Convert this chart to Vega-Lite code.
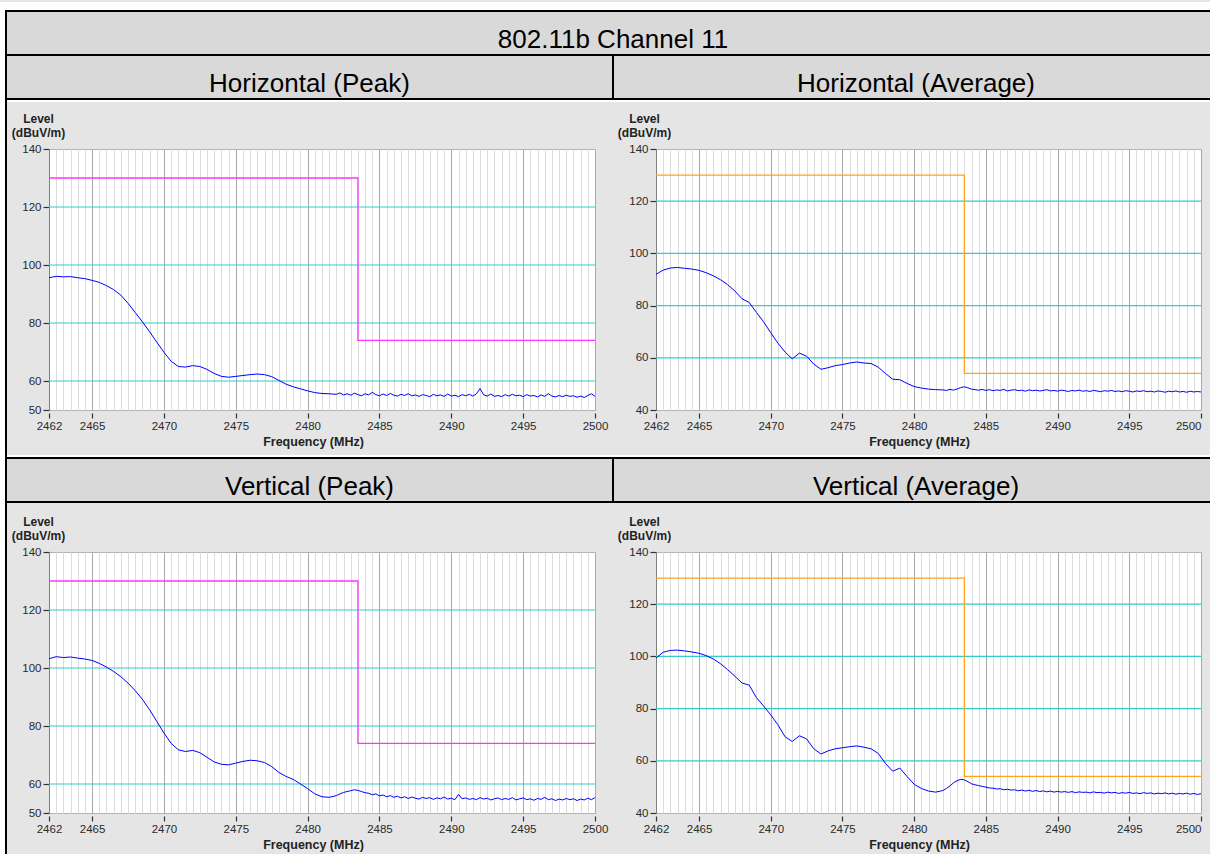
{
"$schema": "https://vega.github.io/schema/vega-lite/v6.json",
"background": "#e5e5e5",
"padding": 0,
"autosize": {"type": "pad"},
"config": {"font": "Liberation Sans", "view": {"stroke": null}, "concat": {"spacing": 0}, "axis": {"labelFont": "Liberation Sans", "titleFont": "Liberation Sans", "labelFlush": false, "labelOverlap": false}},
"data": {"values": [{}]},
"datasets": {
"hl": [{"v":60},{"v":80},{"v":100},{"v":120}],
"limit": [
{"p":"P","i":1,"f":2462,"v":130},{"p":"P","i":2,"f":2483.5,"v":130},{"p":"P","i":3,"f":2483.5,"v":74},{"p":"P","i":4,"f":2500,"v":74},
{"p":"A","i":1,"f":2462,"v":130},{"p":"A","i":2,"f":2483.5,"v":130},{"p":"A","i":3,"f":2483.5,"v":54},{"p":"A","i":4,"f":2500,"v":54}
],
"trace": [
{"p":"HP","f":2462,"v":95.6},{"p":"HP","f":2462.5,"v":96.1},{"p":"HP","f":2463,"v":95.9},{"p":"HP","f":2463.5,"v":96.0},{"p":"HP","f":2464,"v":95.6},{"p":"HP","f":2464.5,"v":95.3},{"p":"HP","f":2465,"v":94.7},{"p":"HP","f":2465.5,"v":94.0},{"p":"HP","f":2466,"v":92.9},{"p":"HP","f":2466.5,"v":91.5},{"p":"HP","f":2467,"v":89.6},{"p":"HP","f":2467.5,"v":86.8},{"p":"HP","f":2468,"v":83.6},{"p":"HP","f":2468.5,"v":80.4},{"p":"HP","f":2469,"v":77.0},{"p":"HP","f":2469.5,"v":73.4},{"p":"HP","f":2470,"v":69.9},{"p":"HP","f":2470.5,"v":66.8},{"p":"HP","f":2471,"v":65.0},{"p":"HP","f":2471.5,"v":64.8},{"p":"HP","f":2472,"v":65.3},{"p":"HP","f":2472.5,"v":65.0},{"p":"HP","f":2473,"v":64.0},{"p":"HP","f":2473.5,"v":62.6},{"p":"HP","f":2474,"v":61.6},{"p":"HP","f":2474.5,"v":61.3},{"p":"HP","f":2475,"v":61.6},{"p":"HP","f":2475.5,"v":61.9},{"p":"HP","f":2476,"v":62.2},{"p":"HP","f":2476.5,"v":62.4},{"p":"HP","f":2477,"v":62.2},{"p":"HP","f":2477.5,"v":61.5},{"p":"HP","f":2478,"v":60.2},{"p":"HP","f":2478.5,"v":58.9},{"p":"HP","f":2479,"v":58.0},{"p":"HP","f":2479.5,"v":57.3},{"p":"HP","f":2480,"v":56.6},{"p":"HP","f":2480.5,"v":56.0},{"p":"HP","f":2481,"v":55.7},{"p":"HP","f":2481.5,"v":55.6},
{"p":"HP","f":2482,"v":55.4},{"p":"HP","f":2482.25,"v":55.9},{"p":"HP","f":2482.5,"v":55.2},{"p":"HP","f":2482.75,"v":55.6},{"p":"HP","f":2483,"v":55.1},{"p":"HP","f":2483.25,"v":55.8},{"p":"HP","f":2483.5,"v":55.3},{"p":"HP","f":2483.75,"v":54.9},{"p":"HP","f":2484,"v":55.6},{"p":"HP","f":2484.25,"v":55.2},{"p":"HP","f":2484.5,"v":56.1},{"p":"HP","f":2484.75,"v":55.3},{"p":"HP","f":2485,"v":54.9},{"p":"HP","f":2485.25,"v":55.5},{"p":"HP","f":2485.5,"v":55.0},{"p":"HP","f":2485.75,"v":55.7},{"p":"HP","f":2486,"v":55.1},{"p":"HP","f":2486.25,"v":54.8},{"p":"HP","f":2486.5,"v":55.4},{"p":"HP","f":2486.75,"v":55.0},{"p":"HP","f":2487,"v":55.6},{"p":"HP","f":2487.25,"v":54.9},{"p":"HP","f":2487.5,"v":55.2},{"p":"HP","f":2487.75,"v":54.7},{"p":"HP","f":2488,"v":55.3},{"p":"HP","f":2488.25,"v":55.0},{"p":"HP","f":2488.5,"v":54.6},{"p":"HP","f":2488.75,"v":55.4},{"p":"HP","f":2489,"v":54.9},{"p":"HP","f":2489.25,"v":55.2},{"p":"HP","f":2489.5,"v":54.7},{"p":"HP","f":2489.75,"v":55.5},{"p":"HP","f":2490,"v":54.8},{"p":"HP","f":2490.25,"v":55.1},{"p":"HP","f":2490.5,"v":54.6},{"p":"HP","f":2490.75,"v":55.3},{"p":"HP","f":2491,"v":54.9},{"p":"HP","f":2491.25,"v":55.4},{"p":"HP","f":2491.5,"v":54.8},{"p":"HP","f":2491.75,"v":55.6},{"p":"HP","f":2492,"v":57.4},{"p":"HP","f":2492.25,"v":55.2},{"p":"HP","f":2492.5,"v":54.8},{"p":"HP","f":2492.75,"v":55.5},{"p":"HP","f":2493,"v":54.7},{"p":"HP","f":2493.25,"v":55.0},{"p":"HP","f":2493.5,"v":54.6},{"p":"HP","f":2493.75,"v":55.3},{"p":"HP","f":2494,"v":54.8},{"p":"HP","f":2494.25,"v":55.4},{"p":"HP","f":2494.5,"v":54.9},{"p":"HP","f":2494.75,"v":55.1},{"p":"HP","f":2495,"v":54.6},{"p":"HP","f":2495.25,"v":55.3},{"p":"HP","f":2495.5,"v":54.8},{"p":"HP","f":2495.75,"v":55.0},{"p":"HP","f":2496,"v":54.5},{"p":"HP","f":2496.25,"v":55.2},{"p":"HP","f":2496.5,"v":54.7},{"p":"HP","f":2496.75,"v":55.6},{"p":"HP","f":2497,"v":54.8},{"p":"HP","f":2497.25,"v":54.5},{"p":"HP","f":2497.5,"v":55.0},{"p":"HP","f":2497.75,"v":54.6},{"p":"HP","f":2498,"v":55.1},{"p":"HP","f":2498.25,"v":54.7},{"p":"HP","f":2498.5,"v":54.9},{"p":"HP","f":2498.75,"v":54.4},{"p":"HP","f":2499,"v":54.8},{"p":"HP","f":2499.25,"v":54.3},{"p":"HP","f":2499.5,"v":55.0},{"p":"HP","f":2499.75,"v":55.6},{"p":"HP","f":2500,"v":54.7},
{"p":"HA","f":2462,"v":92.0},{"p":"HA","f":2462.5,"v":93.6},{"p":"HA","f":2463,"v":94.4},{"p":"HA","f":2463.5,"v":94.6},{"p":"HA","f":2464,"v":94.3},{"p":"HA","f":2464.5,"v":94.0},{"p":"HA","f":2465,"v":93.5},{"p":"HA","f":2465.5,"v":92.6},{"p":"HA","f":2466,"v":91.4},{"p":"HA","f":2466.5,"v":89.9},{"p":"HA","f":2467,"v":88.0},{"p":"HA","f":2467.5,"v":85.6},{"p":"HA","f":2468,"v":82.6},{"p":"HA","f":2468.5,"v":81.2},{"p":"HA","f":2469,"v":77.4},{"p":"HA","f":2469.5,"v":73.8},{"p":"HA","f":2470,"v":69.6},{"p":"HA","f":2470.5,"v":65.6},{"p":"HA","f":2471,"v":62.2},{"p":"HA","f":2471.5,"v":59.6},{"p":"HA","f":2472,"v":61.8},{"p":"HA","f":2472.5,"v":60.6},{"p":"HA","f":2473,"v":57.6},{"p":"HA","f":2473.5,"v":55.6},{"p":"HA","f":2474,"v":56.2},{"p":"HA","f":2474.5,"v":57.0},{"p":"HA","f":2475,"v":57.4},{"p":"HA","f":2475.5,"v":58.0},{"p":"HA","f":2476,"v":58.4},{"p":"HA","f":2476.5,"v":58.0},{"p":"HA","f":2477,"v":57.8},{"p":"HA","f":2477.5,"v":56.4},{"p":"HA","f":2478,"v":54.0},{"p":"HA","f":2478.5,"v":51.8},{"p":"HA","f":2479,"v":51.6},{"p":"HA","f":2479.5,"v":50.2},{"p":"HA","f":2480,"v":49.0},{"p":"HA","f":2480.5,"v":48.4},{"p":"HA","f":2481,"v":48.0},{"p":"HA","f":2481.5,"v":47.8},
{"p":"HA","f":2482,"v":47.7},{"p":"HA","f":2482.25,"v":47.5},{"p":"HA","f":2482.5,"v":47.9},{"p":"HA","f":2482.75,"v":47.6},{"p":"HA","f":2483,"v":48.1},{"p":"HA","f":2483.25,"v":48.6},{"p":"HA","f":2483.5,"v":48.9},{"p":"HA","f":2483.75,"v":48.5},{"p":"HA","f":2484,"v":48.0},{"p":"HA","f":2484.25,"v":47.8},{"p":"HA","f":2484.5,"v":47.6},{"p":"HA","f":2484.75,"v":47.9},{"p":"HA","f":2485,"v":47.5},{"p":"HA","f":2485.25,"v":47.8},{"p":"HA","f":2485.5,"v":47.4},{"p":"HA","f":2485.75,"v":47.7},{"p":"HA","f":2486,"v":47.5},{"p":"HA","f":2486.25,"v":47.9},{"p":"HA","f":2486.5,"v":47.3},{"p":"HA","f":2486.75,"v":47.6},{"p":"HA","f":2487,"v":47.8},{"p":"HA","f":2487.25,"v":47.4},{"p":"HA","f":2487.5,"v":47.6},{"p":"HA","f":2487.75,"v":47.2},{"p":"HA","f":2488,"v":47.7},{"p":"HA","f":2488.25,"v":47.4},{"p":"HA","f":2488.5,"v":47.6},{"p":"HA","f":2488.75,"v":47.3},{"p":"HA","f":2489,"v":47.5},{"p":"HA","f":2489.25,"v":47.8},{"p":"HA","f":2489.5,"v":47.3},{"p":"HA","f":2489.75,"v":47.5},{"p":"HA","f":2490,"v":47.2},{"p":"HA","f":2490.25,"v":47.6},{"p":"HA","f":2490.5,"v":47.4},{"p":"HA","f":2490.75,"v":47.1},{"p":"HA","f":2491,"v":47.5},{"p":"HA","f":2491.25,"v":47.3},{"p":"HA","f":2491.5,"v":47.6},{"p":"HA","f":2491.75,"v":47.2},{"p":"HA","f":2492,"v":47.4},{"p":"HA","f":2492.25,"v":47.1},{"p":"HA","f":2492.5,"v":47.5},{"p":"HA","f":2492.75,"v":47.3},{"p":"HA","f":2493,"v":47.0},{"p":"HA","f":2493.25,"v":47.4},{"p":"HA","f":2493.5,"v":47.2},{"p":"HA","f":2493.75,"v":47.5},{"p":"HA","f":2494,"v":47.1},{"p":"HA","f":2494.25,"v":47.3},{"p":"HA","f":2494.5,"v":47.0},{"p":"HA","f":2494.75,"v":47.4},{"p":"HA","f":2495,"v":47.2},{"p":"HA","f":2495.25,"v":46.9},{"p":"HA","f":2495.5,"v":47.3},{"p":"HA","f":2495.75,"v":47.1},{"p":"HA","f":2496,"v":47.4},{"p":"HA","f":2496.25,"v":47.0},{"p":"HA","f":2496.5,"v":47.2},{"p":"HA","f":2496.75,"v":46.9},{"p":"HA","f":2497,"v":47.3},{"p":"HA","f":2497.25,"v":47.1},{"p":"HA","f":2497.5,"v":46.8},{"p":"HA","f":2497.75,"v":47.2},{"p":"HA","f":2498,"v":47.0},{"p":"HA","f":2498.25,"v":47.3},{"p":"HA","f":2498.5,"v":46.9},{"p":"HA","f":2498.75,"v":47.1},{"p":"HA","f":2499,"v":46.8},{"p":"HA","f":2499.25,"v":47.2},{"p":"HA","f":2499.5,"v":46.9},{"p":"HA","f":2499.75,"v":47.1},{"p":"HA","f":2500,"v":46.9},
{"p":"VP","f":2462,"v":103.2},{"p":"VP","f":2462.5,"v":103.9},{"p":"VP","f":2463,"v":103.6},{"p":"VP","f":2463.5,"v":103.8},{"p":"VP","f":2464,"v":103.4},{"p":"VP","f":2464.5,"v":103.1},{"p":"VP","f":2465,"v":102.6},{"p":"VP","f":2465.5,"v":101.6},{"p":"VP","f":2466,"v":100.3},{"p":"VP","f":2466.5,"v":98.8},{"p":"VP","f":2467,"v":97.0},{"p":"VP","f":2467.5,"v":94.8},{"p":"VP","f":2468,"v":92.2},{"p":"VP","f":2468.5,"v":89.2},{"p":"VP","f":2469,"v":85.6},{"p":"VP","f":2469.5,"v":81.6},{"p":"VP","f":2470,"v":77.6},{"p":"VP","f":2470.5,"v":74.0},{"p":"VP","f":2471,"v":71.8},{"p":"VP","f":2471.5,"v":71.2},{"p":"VP","f":2472,"v":71.6},{"p":"VP","f":2472.5,"v":70.8},{"p":"VP","f":2473,"v":69.2},{"p":"VP","f":2473.5,"v":67.6},{"p":"VP","f":2474,"v":66.8},{"p":"VP","f":2474.5,"v":66.6},{"p":"VP","f":2475,"v":67.2},{"p":"VP","f":2475.5,"v":67.8},{"p":"VP","f":2476,"v":68.2},{"p":"VP","f":2476.5,"v":68.0},{"p":"VP","f":2477,"v":67.4},{"p":"VP","f":2477.5,"v":66.0},{"p":"VP","f":2478,"v":64.0},{"p":"VP","f":2478.5,"v":62.6},{"p":"VP","f":2479,"v":61.6},{"p":"VP","f":2479.5,"v":60.0},{"p":"VP","f":2480,"v":58.4},{"p":"VP","f":2480.5,"v":56.6},{"p":"VP","f":2481,"v":55.6},{"p":"VP","f":2481.5,"v":55.4},
{"p":"VP","f":2482,"v":56.0},{"p":"VP","f":2482.25,"v":56.6},{"p":"VP","f":2482.5,"v":57.1},{"p":"VP","f":2482.75,"v":57.4},{"p":"VP","f":2483,"v":57.7},{"p":"VP","f":2483.25,"v":58.0},{"p":"VP","f":2483.5,"v":57.8},{"p":"VP","f":2483.75,"v":57.4},{"p":"VP","f":2484,"v":57.0},{"p":"VP","f":2484.25,"v":56.8},{"p":"VP","f":2484.5,"v":56.3},{"p":"VP","f":2484.75,"v":56.6},{"p":"VP","f":2485,"v":55.9},{"p":"VP","f":2485.25,"v":56.2},{"p":"VP","f":2485.5,"v":55.6},{"p":"VP","f":2485.75,"v":56.0},{"p":"VP","f":2486,"v":55.4},{"p":"VP","f":2486.25,"v":55.8},{"p":"VP","f":2486.5,"v":55.2},{"p":"VP","f":2486.75,"v":55.6},{"p":"VP","f":2487,"v":55.0},{"p":"VP","f":2487.25,"v":55.5},{"p":"VP","f":2487.5,"v":55.1},{"p":"VP","f":2487.75,"v":54.8},{"p":"VP","f":2488,"v":55.4},{"p":"VP","f":2488.25,"v":55.0},{"p":"VP","f":2488.5,"v":55.3},{"p":"VP","f":2488.75,"v":54.7},{"p":"VP","f":2489,"v":55.2},{"p":"VP","f":2489.25,"v":54.9},{"p":"VP","f":2489.5,"v":55.5},{"p":"VP","f":2489.75,"v":54.8},{"p":"VP","f":2490,"v":55.1},{"p":"VP","f":2490.25,"v":54.6},{"p":"VP","f":2490.5,"v":56.4},{"p":"VP","f":2490.75,"v":54.9},{"p":"VP","f":2491,"v":55.2},{"p":"VP","f":2491.25,"v":54.7},{"p":"VP","f":2491.5,"v":55.0},{"p":"VP","f":2491.75,"v":54.6},{"p":"VP","f":2492,"v":55.3},{"p":"VP","f":2492.25,"v":54.8},{"p":"VP","f":2492.5,"v":55.1},{"p":"VP","f":2492.75,"v":54.5},{"p":"VP","f":2493,"v":54.9},{"p":"VP","f":2493.25,"v":55.2},{"p":"VP","f":2493.5,"v":54.6},{"p":"VP","f":2493.75,"v":55.0},{"p":"VP","f":2494,"v":54.7},{"p":"VP","f":2494.25,"v":55.3},{"p":"VP","f":2494.5,"v":54.5},{"p":"VP","f":2494.75,"v":54.9},{"p":"VP","f":2495,"v":55.2},{"p":"VP","f":2495.25,"v":54.6},{"p":"VP","f":2495.5,"v":54.9},{"p":"VP","f":2495.75,"v":54.4},{"p":"VP","f":2496,"v":55.0},{"p":"VP","f":2496.25,"v":54.7},{"p":"VP","f":2496.5,"v":55.4},{"p":"VP","f":2496.75,"v":54.6},{"p":"VP","f":2497,"v":54.9},{"p":"VP","f":2497.25,"v":54.3},{"p":"VP","f":2497.5,"v":54.8},{"p":"VP","f":2497.75,"v":54.5},{"p":"VP","f":2498,"v":55.0},{"p":"VP","f":2498.25,"v":54.6},{"p":"VP","f":2498.5,"v":54.9},{"p":"VP","f":2498.75,"v":54.3},{"p":"VP","f":2499,"v":54.8},{"p":"VP","f":2499.25,"v":54.5},{"p":"VP","f":2499.5,"v":55.1},{"p":"VP","f":2499.75,"v":54.6},{"p":"VP","f":2500,"v":55.3},
{"p":"VA","f":2462,"v":99.4},{"p":"VA","f":2462.5,"v":101.6},{"p":"VA","f":2463,"v":102.3},{"p":"VA","f":2463.5,"v":102.4},{"p":"VA","f":2464,"v":102.1},{"p":"VA","f":2464.5,"v":101.7},{"p":"VA","f":2465,"v":101.2},{"p":"VA","f":2465.5,"v":100.3},{"p":"VA","f":2466,"v":99.0},{"p":"VA","f":2466.5,"v":97.2},{"p":"VA","f":2467,"v":94.9},{"p":"VA","f":2467.5,"v":92.4},{"p":"VA","f":2468,"v":89.8},{"p":"VA","f":2468.5,"v":89.0},{"p":"VA","f":2469,"v":84.2},{"p":"VA","f":2469.5,"v":81.0},{"p":"VA","f":2470,"v":77.6},{"p":"VA","f":2470.5,"v":73.8},{"p":"VA","f":2471,"v":69.2},{"p":"VA","f":2471.5,"v":67.4},{"p":"VA","f":2472,"v":69.6},{"p":"VA","f":2472.5,"v":68.4},{"p":"VA","f":2473,"v":64.6},{"p":"VA","f":2473.5,"v":62.6},{"p":"VA","f":2474,"v":63.8},{"p":"VA","f":2474.5,"v":64.6},{"p":"VA","f":2475,"v":65.0},{"p":"VA","f":2475.5,"v":65.4},{"p":"VA","f":2476,"v":65.7},{"p":"VA","f":2476.5,"v":65.2},{"p":"VA","f":2477,"v":64.6},{"p":"VA","f":2477.5,"v":62.8},{"p":"VA","f":2478,"v":59.0},{"p":"VA","f":2478.5,"v":56.0},{"p":"VA","f":2479,"v":57.2},{"p":"VA","f":2479.5,"v":54.0},{"p":"VA","f":2480,"v":51.0},{"p":"VA","f":2480.5,"v":49.4},{"p":"VA","f":2481,"v":48.4},{"p":"VA","f":2481.5,"v":48.0},
{"p":"VA","f":2482,"v":48.6},{"p":"VA","f":2482.25,"v":49.4},{"p":"VA","f":2482.5,"v":50.4},{"p":"VA","f":2482.75,"v":51.6},{"p":"VA","f":2483,"v":52.4},{"p":"VA","f":2483.25,"v":52.9},{"p":"VA","f":2483.5,"v":52.7},{"p":"VA","f":2483.75,"v":52.0},{"p":"VA","f":2484,"v":51.2},{"p":"VA","f":2484.25,"v":50.8},{"p":"VA","f":2484.5,"v":50.5},{"p":"VA","f":2484.75,"v":50.2},{"p":"VA","f":2485,"v":49.9},{"p":"VA","f":2485.25,"v":49.6},{"p":"VA","f":2485.5,"v":49.5},{"p":"VA","f":2485.75,"v":49.2},{"p":"VA","f":2486,"v":49.3},{"p":"VA","f":2486.25,"v":48.9},{"p":"VA","f":2486.5,"v":49.1},{"p":"VA","f":2486.75,"v":48.8},{"p":"VA","f":2487,"v":48.9},{"p":"VA","f":2487.25,"v":48.5},{"p":"VA","f":2487.5,"v":48.8},{"p":"VA","f":2487.75,"v":48.4},{"p":"VA","f":2488,"v":48.7},{"p":"VA","f":2488.25,"v":48.3},{"p":"VA","f":2488.5,"v":48.6},{"p":"VA","f":2488.75,"v":48.2},{"p":"VA","f":2489,"v":48.5},{"p":"VA","f":2489.25,"v":48.1},{"p":"VA","f":2489.5,"v":48.4},{"p":"VA","f":2489.75,"v":48.0},{"p":"VA","f":2490,"v":48.3},{"p":"VA","f":2490.25,"v":48.0},{"p":"VA","f":2490.5,"v":48.2},{"p":"VA","f":2490.75,"v":47.9},{"p":"VA","f":2491,"v":48.2},{"p":"VA","f":2491.25,"v":47.8},{"p":"VA","f":2491.5,"v":48.1},{"p":"VA","f":2491.75,"v":47.9},{"p":"VA","f":2492,"v":48.0},{"p":"VA","f":2492.25,"v":47.7},{"p":"VA","f":2492.5,"v":48.1},{"p":"VA","f":2492.75,"v":47.8},{"p":"VA","f":2493,"v":47.9},{"p":"VA","f":2493.25,"v":47.6},{"p":"VA","f":2493.5,"v":48.0},{"p":"VA","f":2493.75,"v":47.7},{"p":"VA","f":2494,"v":47.9},{"p":"VA","f":2494.25,"v":47.5},{"p":"VA","f":2494.5,"v":47.8},{"p":"VA","f":2494.75,"v":47.6},{"p":"VA","f":2495,"v":47.9},{"p":"VA","f":2495.25,"v":47.5},{"p":"VA","f":2495.5,"v":47.7},{"p":"VA","f":2495.75,"v":47.4},{"p":"VA","f":2496,"v":47.8},{"p":"VA","f":2496.25,"v":47.5},{"p":"VA","f":2496.5,"v":47.7},{"p":"VA","f":2496.75,"v":47.3},{"p":"VA","f":2497,"v":47.6},{"p":"VA","f":2497.25,"v":47.4},{"p":"VA","f":2497.5,"v":47.7},{"p":"VA","f":2497.75,"v":47.3},{"p":"VA","f":2498,"v":47.6},{"p":"VA","f":2498.25,"v":47.2},{"p":"VA","f":2498.5,"v":47.5},{"p":"VA","f":2498.75,"v":47.3},{"p":"VA","f":2499,"v":47.6},{"p":"VA","f":2499.25,"v":47.2},{"p":"VA","f":2499.5,"v":47.5},{"p":"VA","f":2499.75,"v":47.1},{"p":"VA","f":2500,"v":47.4}
]
},
"columns": 9,
"spacing": 0,
"bounds": "flush",
"align": "each",
"concat": [
{"width":5,"height":8,"view":{"fill":"white"},"mark":{"type":"text","text":""}},
{"width":2,"height":8,"view":{"fill":"white"},"mark":{"type":"text","text":""}},
{"width":42,"height":8,"view":{"fill":"white"},"mark":{"type":"text","text":""}},
{"width":546,"height":8,"view":{"fill":"white"},"mark":{"type":"text","text":""}},
{"width":17,"height":8,"view":{"fill":"white"},"mark":{"type":"text","text":""}},
{"width":2,"height":8,"view":{"fill":"white"},"mark":{"type":"text","text":""}},
{"width":42,"height":8,"view":{"fill":"white"},"mark":{"type":"text","text":""}},
{"width":545,"height":8,"view":{"fill":"white"},"mark":{"type":"text","text":""}},
{"width":9,"height":8,"view":{"fill":"white"},"mark":{"type":"text","text":""}},

{"width":5,"height":2,"view":{"fill":"white"},"mark":{"type":"text","text":""}},
{"width":2,"height":2,"view":{"fill":"black"},"mark":{"type":"text","text":""}},
{"width":42,"height":2,"view":{"fill":"black"},"mark":{"type":"text","text":""}},
{"width":546,"height":2,"view":{"fill":"black"},"mark":{"type":"text","text":""}},
{"width":17,"height":2,"view":{"fill":"black"},"mark":{"type":"text","text":""}},
{"width":2,"height":2,"view":{"fill":"black"},"mark":{"type":"text","text":""}},
{"width":42,"height":2,"view":{"fill":"black"},"mark":{"type":"text","text":""}},
{"width":545,"height":2,"view":{"fill":"black"},"mark":{"type":"text","text":""}},
{"width":9,"height":2,"view":{"fill":"black"},"mark":{"type":"text","text":""}},

{"width":5,"height":42,"view":{"fill":"white"},"mark":{"type":"text","text":""}},
{"width":2,"height":42,"view":{"fill":"black"},"mark":{"type":"text","text":""}},
{"width":42,"height":42,"view":{"fill":"#d9d9d9"},"mark":{"type":"text","text":""}},
{"width":546,"height":42,"view":{"fill":"#d9d9d9"},"mark":{"type":"text","text":""}},
{"width":17,"height":42,"view":{"fill":"#d9d9d9"},"mark":{"type":"text","text":""}},
{"width":2,"height":42,"view":{"fill":"#d9d9d9"},"mark":{"type":"text","text":""}},
{"width":42,"height":42,"view":{"fill":"#d9d9d9"},"mark":{"type":"text","text":""}},
{"width":545,"height":42,"view":{"fill":"#d9d9d9"},"mark":{"type":"text","text":""}},
{"width":9,"height":42,"view":{"fill":"#d9d9d9"},"data":{"values":[{"t":"802.11b Channel 11"}]},"mark":{"type":"text","fontSize":26,"font":"Liberation Sans","color":"black","baseline":"middle","dx":-592.5,"dy":7},"encoding":{"text":{"field":"t","type":"nominal"}}},

{"width":5,"height":2,"view":{"fill":"white"},"mark":{"type":"text","text":""}},
{"width":2,"height":2,"view":{"fill":"black"},"mark":{"type":"text","text":""}},
{"width":42,"height":2,"view":{"fill":"black"},"mark":{"type":"text","text":""}},
{"width":546,"height":2,"view":{"fill":"black"},"mark":{"type":"text","text":""}},
{"width":17,"height":2,"view":{"fill":"black"},"mark":{"type":"text","text":""}},
{"width":2,"height":2,"view":{"fill":"black"},"mark":{"type":"text","text":""}},
{"width":42,"height":2,"view":{"fill":"black"},"mark":{"type":"text","text":""}},
{"width":545,"height":2,"view":{"fill":"black"},"mark":{"type":"text","text":""}},
{"width":9,"height":2,"view":{"fill":"black"},"mark":{"type":"text","text":""}},

{"width":5,"height":42,"view":{"fill":"white"},"mark":{"type":"text","text":""}},
{"width":2,"height":42,"view":{"fill":"black"},"mark":{"type":"text","text":""}},
{"width":42,"height":42,"view":{"fill":"#d9d9d9"},"mark":{"type":"text","text":""}},
{"width":546,"height":42,"view":{"fill":"#d9d9d9"},"mark":{"type":"text","text":""}},
{"width":17,"height":42,"view":{"fill":"#d9d9d9"},"data":{"values":[{"t":"Horizontal (Peak)"}]},"mark":{"type":"text","fontSize":26,"font":"Liberation Sans","color":"black","baseline":"middle","dx":-294,"dy":7},"encoding":{"text":{"field":"t","type":"nominal"}}},
{"width":2,"height":42,"view":{"fill":"black"},"mark":{"type":"text","text":""}},
{"width":42,"height":42,"view":{"fill":"#d9d9d9"},"mark":{"type":"text","text":""}},
{"width":545,"height":42,"view":{"fill":"#d9d9d9"},"mark":{"type":"text","text":""}},
{"width":9,"height":42,"view":{"fill":"#d9d9d9"},"data":{"values":[{"t":"Horizontal (Average)"}]},"mark":{"type":"text","fontSize":26,"font":"Liberation Sans","color":"black","baseline":"middle","dx":-289.5,"dy":7},"encoding":{"text":{"field":"t","type":"nominal"}}},

{"width":5,"height":2,"view":{"fill":"white"},"mark":{"type":"text","text":""}},
{"width":2,"height":2,"view":{"fill":"black"},"mark":{"type":"text","text":""}},
{"width":42,"height":2,"view":{"fill":"black"},"mark":{"type":"text","text":""}},
{"width":546,"height":2,"view":{"fill":"black"},"mark":{"type":"text","text":""}},
{"width":17,"height":2,"view":{"fill":"black"},"mark":{"type":"text","text":""}},
{"width":2,"height":2,"view":{"fill":"black"},"mark":{"type":"text","text":""}},
{"width":42,"height":2,"view":{"fill":"black"},"mark":{"type":"text","text":""}},
{"width":545,"height":2,"view":{"fill":"black"},"mark":{"type":"text","text":""}},
{"width":9,"height":2,"view":{"fill":"black"},"mark":{"type":"text","text":""}},

{"width":5,"height":2,"view":{"fill":"white"},"mark":{"type":"text","text":""}},
{"width":2,"height":2,"view":{"fill":"black"},"mark":{"type":"text","text":""}},
{"width":42,"height":2,"view":{"fill":"white"},"mark":{"type":"text","text":""}},
{"width":546,"height":2,"view":{"fill":"white"},"mark":{"type":"text","text":""}},
{"width":17,"height":2,"view":{"fill":"white"},"mark":{"type":"text","text":""}},
{"width":2,"height":2,"view":{"fill":"white"},"mark":{"type":"text","text":""}},
{"width":42,"height":2,"view":{"fill":"white"},"mark":{"type":"text","text":""}},
{"width":545,"height":2,"view":{"fill":"white"},"mark":{"type":"text","text":""}},
{"width":9,"height":2,"view":{"fill":"white"},"mark":{"type":"text","text":""}},

{"width":5,"height":47,"view":{"fill":"white"},"mark":{"type":"text","text":""}},
{"width":2,"height":47,"view":{"fill":"black"},"mark":{"type":"text","text":""}},
{"width":42,"height":47,"mark":{"type":"text","text":""}},
{"width":546,"height":47,"mark":{"type":"text","text":""}},
{"width":17,"height":47,"mark":{"type":"text","text":""}},
{"width":2,"height":47,"mark":{"type":"text","text":""}},
{"width":42,"height":47,"mark":{"type":"text","text":""}},
{"width":545,"height":47,"mark":{"type":"text","text":""}},
{"width":9,"height":47,"mark":{"type":"text","text":""}},

{"width":5,"height":261,"view":{"fill":"white"},"mark":{"type":"text","text":""}},
{"width":2,"height":261,"view":{"fill":"black"},"mark":{"type":"text","text":""}},
{"width":42,"height":261,"mark":{"type":"text","text":""}},
{"width": 546, "height": 261, "view": {"fill": "white", "stroke": "#b4b4b4", "strokeWidth": 1},
 "resolve": {"axis": {"x": "independent", "y": "independent"}},
 "layer": [
  {"data": {"name": "hl"}, "mark": {"type": "rule", "color": "#33cccc", "strokeWidth": 1.2},
   "encoding": {"y": {"field": "v", "type": "quantitative", "scale": {"domain": [50, 140], "nice": false, "zero": false}, "axis": null}}},
  {"data": {"name": "limit"}, "transform": [{"filter": "datum.p == 'P'"}],
   "mark": {"type": "line", "color": "#ff33ff", "strokeWidth": 1.3},
   "encoding": {
    "x": {"field": "f", "type": "quantitative", "scale": {"domain": [2462, 2500], "nice": false, "zero": false},
      "axis": {"orient": "top", "values": [2462.5,2463,2463.5,2464,2464.5,2465.5,2466,2466.5,2467,2467.5,2468,2468.5,2469,2469.5,2470.5,2471,2471.5,2472,2472.5,2473,2473.5,2474,2474.5,2475.5,2476,2476.5,2477,2477.5,2478,2478.5,2479,2479.5,2480.5,2481,2481.5,2482,2482.5,2483,2483.5,2484,2484.5,2485.5,2486,2486.5,2487,2487.5,2488,2488.5,2489,2489.5,2490.5,2491,2491.5,2492,2492.5,2493,2493.5,2494,2494.5,2495.5,2496,2496.5,2497,2497.5,2498,2498.5,2499,2499.5], "grid": true, "gridColor": "#dcdcdc", "gridWidth": 1, "domain": false, "ticks": false, "labels": false, "title": null}},
    "y": {"field": "v", "type": "quantitative",
      "axis": {"orient": "left", "values": [50,60,80,100,120,140], "grid": false, "domain": true, "domainColor": "#808080", "tickSize": 6, "tickColor": "#333333", "tickWidth": 1.2, "labelFontSize": 11.5, "labelColor": "#2a2a2a", "labelPadding": 2, "title": ["Level", "(dBuV/m)"], "titleAngle": 0, "titleAlign": "center", "titleBaseline": "alphabetic", "titleX": -11, "titleY": -27, "titleFontSize": 12, "titleFontWeight": "bold", "titleColor": "#222222", "titleLineHeight": 14}},
    "order": {"field": "i", "type": "quantitative"}
   }},
  {"data": {"name": "trace"}, "transform": [{"filter": "datum.p == 'HP'"}],
   "mark": {"type": "line", "color": "#0000ff", "strokeWidth": 1},
   "encoding": {
    "x": {"field": "f", "type": "quantitative",
      "axis": {"orient": "bottom", "values": [2462,2465,2470,2475,2480,2485,2490,2495,2500], "format": "d", "grid": true, "gridColor": "#a9a9a9", "gridWidth": 1, "domain": false, "offset": 3, "tickSize": 5, "tickColor": "#333333", "tickWidth": 1.2, "labelFontSize": 11.5, "labelColor": "#2a2a2a", "labelPadding": 2, "title": "Frequency (MHz)", "titleFontSize": 12.5, "titleFontWeight": "bold", "titleColor": "#222222", "titleX": 264, "titleY": 32, "titleAlign": "center", "titleBaseline": "alphabetic"}},
    "y": {"field": "v", "type": "quantitative", "axis": null}
   }}
 ]},
{"width":17,"height":261,"mark":{"type":"text","text":""}},
{"width":2,"height":261,"mark":{"type":"text","text":""}},
{"width":42,"height":261,"mark":{"type":"text","text":""}},
{"width": 545, "height": 261, "view": {"fill": "white", "stroke": "#b4b4b4", "strokeWidth": 1},
 "resolve": {"axis": {"x": "independent", "y": "independent"}},
 "layer": [
  {"data": {"name": "hl"}, "mark": {"type": "rule", "color": "#33cccc", "strokeWidth": 1.2},
   "encoding": {"y": {"field": "v", "type": "quantitative", "scale": {"domain": [40, 140], "nice": false, "zero": false}, "axis": null}}},
  {"data": {"name": "limit"}, "transform": [{"filter": "datum.p == 'A'"}],
   "mark": {"type": "line", "color": "#ffa31a", "strokeWidth": 1.3},
   "encoding": {
    "x": {"field": "f", "type": "quantitative", "scale": {"domain": [2462, 2500], "nice": false, "zero": false},
      "axis": {"orient": "top", "values": [2462.5,2463,2463.5,2464,2464.5,2465.5,2466,2466.5,2467,2467.5,2468,2468.5,2469,2469.5,2470.5,2471,2471.5,2472,2472.5,2473,2473.5,2474,2474.5,2475.5,2476,2476.5,2477,2477.5,2478,2478.5,2479,2479.5,2480.5,2481,2481.5,2482,2482.5,2483,2483.5,2484,2484.5,2485.5,2486,2486.5,2487,2487.5,2488,2488.5,2489,2489.5,2490.5,2491,2491.5,2492,2492.5,2493,2493.5,2494,2494.5,2495.5,2496,2496.5,2497,2497.5,2498,2498.5,2499,2499.5], "grid": true, "gridColor": "#dcdcdc", "gridWidth": 1, "domain": false, "ticks": false, "labels": false, "title": null}},
    "y": {"field": "v", "type": "quantitative",
      "axis": {"orient": "left", "values": [40,60,80,100,120,140], "grid": false, "domain": true, "domainColor": "#808080", "tickSize": 6, "tickColor": "#333333", "tickWidth": 1.2, "labelFontSize": 11.5, "labelColor": "#2a2a2a", "labelPadding": 2, "title": ["Level", "(dBuV/m)"], "titleAngle": 0, "titleAlign": "center", "titleBaseline": "alphabetic", "titleX": -12, "titleY": -27, "titleFontSize": 12, "titleFontWeight": "bold", "titleColor": "#222222", "titleLineHeight": 14}},
    "order": {"field": "i", "type": "quantitative"}
   }},
  {"data": {"name": "trace"}, "transform": [{"filter": "datum.p == 'HA'"}],
   "mark": {"type": "line", "color": "#0000ff", "strokeWidth": 1},
   "encoding": {
    "x": {"field": "f", "type": "quantitative",
      "axis": {"orient": "bottom", "values": [2462,2465,2470,2475,2480,2485,2490,2495,2500], "format": "d", "grid": true, "gridColor": "#a9a9a9", "gridWidth": 1, "domain": false, "offset": 3, "tickSize": 5, "tickColor": "#333333", "tickWidth": 1.2, "labelFontSize": 11.5, "labelColor": "#2a2a2a", "labelPadding": 2, "labelAlign": {"condition": {"test": "datum.value == 2500", "value": "right"}, "value": "center"}, "title": "Frequency (MHz)", "titleFontSize": 12.5, "titleFontWeight": "bold", "titleColor": "#222222", "titleX": 263, "titleY": 32, "titleAlign": "center", "titleBaseline": "alphabetic"}},
    "y": {"field": "v", "type": "quantitative", "axis": null}
   }}
 ]},
{"width":9,"height":261,"mark":{"type":"text","text":""}},

{"width":5,"height":45,"view":{"fill":"white"},"mark":{"type":"text","text":""}},
{"width":2,"height":45,"view":{"fill":"black"},"mark":{"type":"text","text":""}},
{"width":42,"height":45,"mark":{"type":"text","text":""}},
{"width":546,"height":45,"mark":{"type":"text","text":""}},
{"width":17,"height":45,"mark":{"type":"text","text":""}},
{"width":2,"height":45,"mark":{"type":"text","text":""}},
{"width":42,"height":45,"mark":{"type":"text","text":""}},
{"width":545,"height":45,"mark":{"type":"text","text":""}},
{"width":9,"height":45,"mark":{"type":"text","text":""}},

{"width":5,"height":2,"view":{"fill":"white"},"mark":{"type":"text","text":""}},
{"width":2,"height":2,"view":{"fill":"black"},"mark":{"type":"text","text":""}},
{"width":42,"height":2,"view":{"fill":"white"},"mark":{"type":"text","text":""}},
{"width":546,"height":2,"view":{"fill":"white"},"mark":{"type":"text","text":""}},
{"width":17,"height":2,"view":{"fill":"white"},"mark":{"type":"text","text":""}},
{"width":2,"height":2,"view":{"fill":"white"},"mark":{"type":"text","text":""}},
{"width":42,"height":2,"view":{"fill":"white"},"mark":{"type":"text","text":""}},
{"width":545,"height":2,"view":{"fill":"white"},"mark":{"type":"text","text":""}},
{"width":9,"height":2,"view":{"fill":"white"},"mark":{"type":"text","text":""}},

{"width":5,"height":2,"view":{"fill":"white"},"mark":{"type":"text","text":""}},
{"width":2,"height":2,"view":{"fill":"black"},"mark":{"type":"text","text":""}},
{"width":42,"height":2,"view":{"fill":"black"},"mark":{"type":"text","text":""}},
{"width":546,"height":2,"view":{"fill":"black"},"mark":{"type":"text","text":""}},
{"width":17,"height":2,"view":{"fill":"black"},"mark":{"type":"text","text":""}},
{"width":2,"height":2,"view":{"fill":"black"},"mark":{"type":"text","text":""}},
{"width":42,"height":2,"view":{"fill":"black"},"mark":{"type":"text","text":""}},
{"width":545,"height":2,"view":{"fill":"black"},"mark":{"type":"text","text":""}},
{"width":9,"height":2,"view":{"fill":"black"},"mark":{"type":"text","text":""}},

{"width":5,"height":42,"view":{"fill":"white"},"mark":{"type":"text","text":""}},
{"width":2,"height":42,"view":{"fill":"black"},"mark":{"type":"text","text":""}},
{"width":42,"height":42,"view":{"fill":"#d9d9d9"},"mark":{"type":"text","text":""}},
{"width":546,"height":42,"view":{"fill":"#d9d9d9"},"mark":{"type":"text","text":""}},
{"width":17,"height":42,"view":{"fill":"#d9d9d9"},"data":{"values":[{"t":"Vertical (Peak)"}]},"mark":{"type":"text","fontSize":26,"font":"Liberation Sans","color":"black","baseline":"middle","dx":-294,"dy":7},"encoding":{"text":{"field":"t","type":"nominal"}}},
{"width":2,"height":42,"view":{"fill":"black"},"mark":{"type":"text","text":""}},
{"width":42,"height":42,"view":{"fill":"#d9d9d9"},"mark":{"type":"text","text":""}},
{"width":545,"height":42,"view":{"fill":"#d9d9d9"},"mark":{"type":"text","text":""}},
{"width":9,"height":42,"view":{"fill":"#d9d9d9"},"data":{"values":[{"t":"Vertical (Average)"}]},"mark":{"type":"text","fontSize":26,"font":"Liberation Sans","color":"black","baseline":"middle","dx":-289.5,"dy":7},"encoding":{"text":{"field":"t","type":"nominal"}}},

{"width":5,"height":2,"view":{"fill":"white"},"mark":{"type":"text","text":""}},
{"width":2,"height":2,"view":{"fill":"black"},"mark":{"type":"text","text":""}},
{"width":42,"height":2,"view":{"fill":"black"},"mark":{"type":"text","text":""}},
{"width":546,"height":2,"view":{"fill":"black"},"mark":{"type":"text","text":""}},
{"width":17,"height":2,"view":{"fill":"black"},"mark":{"type":"text","text":""}},
{"width":2,"height":2,"view":{"fill":"black"},"mark":{"type":"text","text":""}},
{"width":42,"height":2,"view":{"fill":"black"},"mark":{"type":"text","text":""}},
{"width":545,"height":2,"view":{"fill":"black"},"mark":{"type":"text","text":""}},
{"width":9,"height":2,"view":{"fill":"black"},"mark":{"type":"text","text":""}},

{"width":5,"height":49,"view":{"fill":"white"},"mark":{"type":"text","text":""}},
{"width":2,"height":49,"view":{"fill":"black"},"mark":{"type":"text","text":""}},
{"width":42,"height":49,"mark":{"type":"text","text":""}},
{"width":546,"height":49,"mark":{"type":"text","text":""}},
{"width":17,"height":49,"mark":{"type":"text","text":""}},
{"width":2,"height":49,"mark":{"type":"text","text":""}},
{"width":42,"height":49,"mark":{"type":"text","text":""}},
{"width":545,"height":49,"mark":{"type":"text","text":""}},
{"width":9,"height":49,"mark":{"type":"text","text":""}},

{"width":5,"height":261,"view":{"fill":"white"},"mark":{"type":"text","text":""}},
{"width":2,"height":261,"view":{"fill":"black"},"mark":{"type":"text","text":""}},
{"width":42,"height":261,"mark":{"type":"text","text":""}},
{"width": 546, "height": 261, "view": {"fill": "white", "stroke": "#b4b4b4", "strokeWidth": 1},
 "resolve": {"axis": {"x": "independent", "y": "independent"}},
 "layer": [
  {"data": {"name": "hl"}, "mark": {"type": "rule", "color": "#33cccc", "strokeWidth": 1.2},
   "encoding": {"y": {"field": "v", "type": "quantitative", "scale": {"domain": [50, 140], "nice": false, "zero": false}, "axis": null}}},
  {"data": {"name": "limit"}, "transform": [{"filter": "datum.p == 'P'"}],
   "mark": {"type": "line", "color": "#ff33ff", "strokeWidth": 1.3},
   "encoding": {
    "x": {"field": "f", "type": "quantitative", "scale": {"domain": [2462, 2500], "nice": false, "zero": false},
      "axis": {"orient": "top", "values": [2462.5,2463,2463.5,2464,2464.5,2465.5,2466,2466.5,2467,2467.5,2468,2468.5,2469,2469.5,2470.5,2471,2471.5,2472,2472.5,2473,2473.5,2474,2474.5,2475.5,2476,2476.5,2477,2477.5,2478,2478.5,2479,2479.5,2480.5,2481,2481.5,2482,2482.5,2483,2483.5,2484,2484.5,2485.5,2486,2486.5,2487,2487.5,2488,2488.5,2489,2489.5,2490.5,2491,2491.5,2492,2492.5,2493,2493.5,2494,2494.5,2495.5,2496,2496.5,2497,2497.5,2498,2498.5,2499,2499.5], "grid": true, "gridColor": "#dcdcdc", "gridWidth": 1, "domain": false, "ticks": false, "labels": false, "title": null}},
    "y": {"field": "v", "type": "quantitative",
      "axis": {"orient": "left", "values": [50,60,80,100,120,140], "grid": false, "domain": true, "domainColor": "#808080", "tickSize": 6, "tickColor": "#333333", "tickWidth": 1.2, "labelFontSize": 11.5, "labelColor": "#2a2a2a", "labelPadding": 2, "title": ["Level", "(dBuV/m)"], "titleAngle": 0, "titleAlign": "center", "titleBaseline": "alphabetic", "titleX": -11, "titleY": -27, "titleFontSize": 12, "titleFontWeight": "bold", "titleColor": "#222222", "titleLineHeight": 14}},
    "order": {"field": "i", "type": "quantitative"}
   }},
  {"data": {"name": "trace"}, "transform": [{"filter": "datum.p == 'VP'"}],
   "mark": {"type": "line", "color": "#0000ff", "strokeWidth": 1},
   "encoding": {
    "x": {"field": "f", "type": "quantitative",
      "axis": {"orient": "bottom", "values": [2462,2465,2470,2475,2480,2485,2490,2495,2500], "format": "d", "grid": true, "gridColor": "#a9a9a9", "gridWidth": 1, "domain": false, "offset": 3, "tickSize": 5, "tickColor": "#333333", "tickWidth": 1.2, "labelFontSize": 11.5, "labelColor": "#2a2a2a", "labelPadding": 2, "title": "Frequency (MHz)", "titleFontSize": 12.5, "titleFontWeight": "bold", "titleColor": "#222222", "titleX": 264, "titleY": 32, "titleAlign": "center", "titleBaseline": "alphabetic"}},
    "y": {"field": "v", "type": "quantitative", "axis": null}
   }}
 ]},
{"width":17,"height":261,"mark":{"type":"text","text":""}},
{"width":2,"height":261,"mark":{"type":"text","text":""}},
{"width":42,"height":261,"mark":{"type":"text","text":""}},
{"width": 545, "height": 261, "view": {"fill": "white", "stroke": "#b4b4b4", "strokeWidth": 1},
 "resolve": {"axis": {"x": "independent", "y": "independent"}},
 "layer": [
  {"data": {"name": "hl"}, "mark": {"type": "rule", "color": "#33cccc", "strokeWidth": 1.2},
   "encoding": {"y": {"field": "v", "type": "quantitative", "scale": {"domain": [40, 140], "nice": false, "zero": false}, "axis": null}}},
  {"data": {"name": "limit"}, "transform": [{"filter": "datum.p == 'A'"}],
   "mark": {"type": "line", "color": "#ffa31a", "strokeWidth": 1.3},
   "encoding": {
    "x": {"field": "f", "type": "quantitative", "scale": {"domain": [2462, 2500], "nice": false, "zero": false},
      "axis": {"orient": "top", "values": [2462.5,2463,2463.5,2464,2464.5,2465.5,2466,2466.5,2467,2467.5,2468,2468.5,2469,2469.5,2470.5,2471,2471.5,2472,2472.5,2473,2473.5,2474,2474.5,2475.5,2476,2476.5,2477,2477.5,2478,2478.5,2479,2479.5,2480.5,2481,2481.5,2482,2482.5,2483,2483.5,2484,2484.5,2485.5,2486,2486.5,2487,2487.5,2488,2488.5,2489,2489.5,2490.5,2491,2491.5,2492,2492.5,2493,2493.5,2494,2494.5,2495.5,2496,2496.5,2497,2497.5,2498,2498.5,2499,2499.5], "grid": true, "gridColor": "#dcdcdc", "gridWidth": 1, "domain": false, "ticks": false, "labels": false, "title": null}},
    "y": {"field": "v", "type": "quantitative",
      "axis": {"orient": "left", "values": [40,60,80,100,120,140], "grid": false, "domain": true, "domainColor": "#808080", "tickSize": 6, "tickColor": "#333333", "tickWidth": 1.2, "labelFontSize": 11.5, "labelColor": "#2a2a2a", "labelPadding": 2, "title": ["Level", "(dBuV/m)"], "titleAngle": 0, "titleAlign": "center", "titleBaseline": "alphabetic", "titleX": -12, "titleY": -27, "titleFontSize": 12, "titleFontWeight": "bold", "titleColor": "#222222", "titleLineHeight": 14}},
    "order": {"field": "i", "type": "quantitative"}
   }},
  {"data": {"name": "trace"}, "transform": [{"filter": "datum.p == 'VA'"}],
   "mark": {"type": "line", "color": "#0000ff", "strokeWidth": 1},
   "encoding": {
    "x": {"field": "f", "type": "quantitative",
      "axis": {"orient": "bottom", "values": [2462,2465,2470,2475,2480,2485,2490,2495,2500], "format": "d", "grid": true, "gridColor": "#a9a9a9", "gridWidth": 1, "domain": false, "offset": 3, "tickSize": 5, "tickColor": "#333333", "tickWidth": 1.2, "labelFontSize": 11.5, "labelColor": "#2a2a2a", "labelPadding": 2, "labelAlign": {"condition": {"test": "datum.value == 2500", "value": "right"}, "value": "center"}, "title": "Frequency (MHz)", "titleFontSize": 12.5, "titleFontWeight": "bold", "titleColor": "#222222", "titleX": 263, "titleY": 32, "titleAlign": "center", "titleBaseline": "alphabetic"}},
    "y": {"field": "v", "type": "quantitative", "axis": null}
   }}
 ]},
{"width":9,"height":261,"mark":{"type":"text","text":""}},

{"width":5,"height":43,"view":{"fill":"white"},"mark":{"type":"text","text":""}},
{"width":2,"height":43,"view":{"fill":"black"},"mark":{"type":"text","text":""}},
{"width":42,"height":43,"mark":{"type":"text","text":""}},
{"width":546,"height":43,"mark":{"type":"text","text":""}},
{"width":17,"height":43,"mark":{"type":"text","text":""}},
{"width":2,"height":43,"mark":{"type":"text","text":""}},
{"width":42,"height":43,"mark":{"type":"text","text":""}},
{"width":545,"height":43,"mark":{"type":"text","text":""}},
{"width":9,"height":43,"mark":{"type":"text","text":""}}
]
}
